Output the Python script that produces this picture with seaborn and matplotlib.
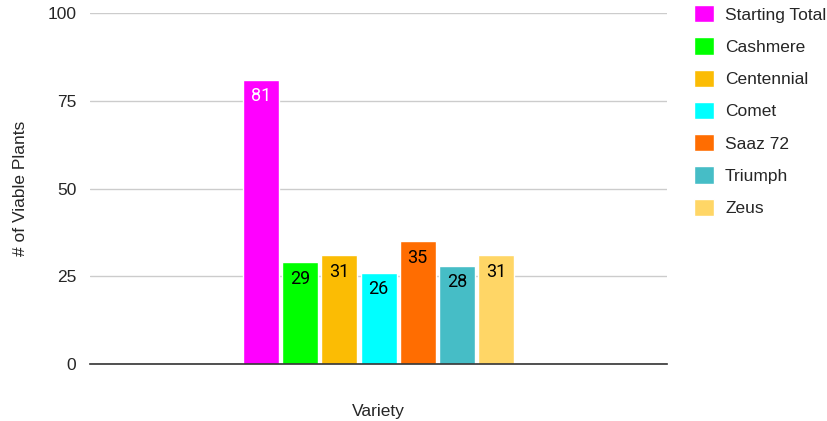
import pandas as pd
import numpy as np
import matplotlib
matplotlib.use("Agg")
import matplotlib.pyplot as plt
import seaborn as sns

# data
varieties = ['Starting Total', 'Cashmere', 'Centennial', 'Comet', 'Saaz 72', 'Triumph', 'Zeus']
viable = [81, 29, 31, 26, 35, 28, 31]
colors = ['#ff00ff', '#00ff00', '#fbbc04', '#00ffff', '#ff6d01', '#46bdc6', '#ffd666']
label_colors = ['white', 'black', 'black', 'black', 'black', 'black', 'black']
y_ticks = [0, 25, 50, 75, 100]

df = pd.DataFrame({'group': [''] * len(varieties), 'Variety': varieties, 'Plants': viable})

sns.set_style("white")
plt.rcParams['font.family'] = ['Liberation Sans', 'DejaVu Sans']

fig = plt.figure(figsize=(8.27, 4.21), dpi=100)
ax = fig.add_axes([0.109, 0.1354, 0.6975, 0.8336])

sns.barplot(data=df, x='group', y='Plants', hue='Variety', hue_order=varieties,
            palette=colors, width=0.475, gap=0.08, saturation=1, legend=False, ax=ax)

ax.set_xlim(-0.5, 0.5)
ax.set_ylim(0, 100)
ax.set_yticks(y_ticks)
ax.set_yticklabels([str(t) for t in y_ticks], fontsize=12.5)
ax.tick_params(axis='y', length=0, pad=10)
ax.tick_params(axis='x', length=0)
ax.set_xticklabels([''])
ax.grid(axis='y', color='#cccccc', linewidth=1)
ax.set_axisbelow(True)
for s in ['top', 'right', 'left']:
    ax.spines[s].set_visible(False)
ax.spines['bottom'].set_color('#333333')
ax.spines['bottom'].set_linewidth(1.2)
ax.spines['bottom'].set_zorder(5)

ax.set_xlabel('Variety', fontsize=12.5, labelpad=25)
ax.set_ylabel('# of Viable Plants', fontsize=12.5, labelpad=14)

# value labels inside the top of each bar
bars = [p for p in ax.patches if p.get_height() > 0]
bars.sort(key=lambda p: p.get_x())
for bar, val, tc in zip(bars, viable, label_colors):
    ax.annotate(str(val), (bar.get_x() + bar.get_width() / 2, bar.get_height()),
                xytext=(0, -5.5), textcoords='offset points', ha='center', va='top',
                fontsize=13, color=tc, family=['Roboto', 'DejaVu Sans'])

handles = [plt.Rectangle((0, 0), 1, 1, facecolor=c) for c in colors]
fig.legend(handles, varieties, loc='upper left', bbox_to_anchor=(0.82, 1.025),
           frameon=False, fontsize=12.5, handlelength=1.15, handleheight=1.15,
           labelspacing=0.85, handletextpad=0.65)

plt.savefig('out.png', dpi=100)
